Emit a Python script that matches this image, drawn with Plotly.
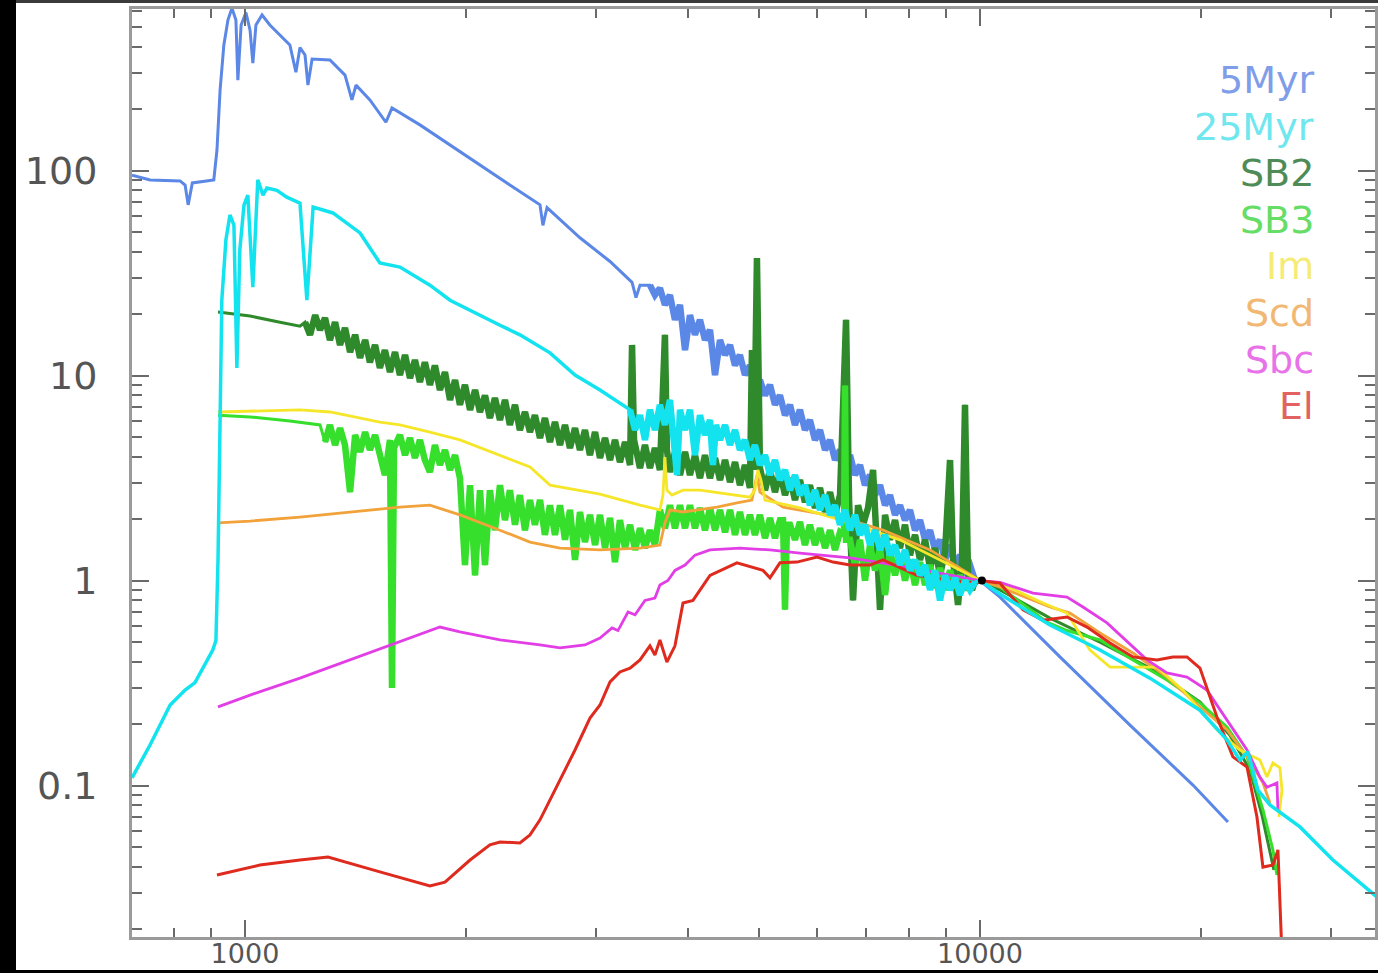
import plotly.graph_objects as go

# Template spectral energy distributions: (wavelength [Angstrom], flux normalised at 1 micron)
sed_5myr = [
    (702, 95), (743, 90), (816, 89), (829, 85), (837, 68), (848, 87), (907, 90), (916, 126),
    (925, 247), (936, 410), (948, 542), (960, 620), (972, 542), (978, 276), (988, 513),
    (1003, 590), (1016, 484), (1025, 334), (1035, 513), (1055, 574), (1081, 513), (1116, 460),
    (1151, 410), (1173, 302), (1188, 398), (1207, 366), (1218, 261), (1234, 350), (1305, 346),
    (1368, 292), (1398, 221), (1416, 261), (1479, 221), (1555, 172), (1585, 202), (1730, 167),
    (1901, 133), (2088, 106), (2293, 85), (2520, 68), (2543, 54), (2576, 66), (2856, 47),
    (3138, 36), (3362, 28.5), (3404, 24), (3447, 27.6), (3556, 27.6), (3612, 24.7), (3669, 26.7),
    (3727, 22.1), (3786, 24.7), (3846, 18.7), (3907, 22.1), (3969, 13.3), (4031, 19.7),
    (4095, 15.8), (4159, 18.7), (4225, 14.9), (4292, 16.7), (4360, 10.05), (4429, 14.9),
    (4499, 12.6), (4570, 14.1), (4642, 11.2), (4714, 12.6), (4789, 10.05), (4864, 11.2),
    (4941, 8.5), (5019, 9.5), (5099, 8.0), (5179, 9.0), (5261, 7.2), (5344, 8.0), (5429, 6.4),
    (5514, 7.2), (5601, 5.74), (5689, 6.8), (5779, 5.42), (5870, 6.07), (5963, 4.85),
    (6058, 5.42), (6154, 4.33), (6251, 4.85), (6350, 3.87), (6450, 4.33), (6552, 3.46),
    (6655, 4.09), (6760, 3.27), (6867, 3.66), (6975, 2.92), (7086, 3.27), (7198, 2.61),
    (7311, 2.92), (7427, 2.33), (7543, 2.61), (7663, 2.09), (7783, 2.33), (7906, 1.97),
    (8031, 2.21), (8158, 1.76), (8287, 1.97), (8418, 1.58), (8551, 1.76), (8686, 1.41),
    (8823, 1.58), (8963, 1.26), (9104, 1.49), (9248, 1.19), (9393, 1.33), (9541, 1.12),
    (9692, 1.19), (9845, 1.0), (10000, 1.0), (10647, 0.83), (12846, 0.424), (15997, 0.197),
    (19486, 0.1005), (21743, 0.0664),
]

sed_25myr = [
    (702, 0.109), (743, 0.158), (791, 0.247), (829, 0.292), (855, 0.318), (882, 0.387),
    (904, 0.458), (913, 0.51), (919, 1.26), (925, 6.07), (930, 23.3), (942, 45.8), (954, 60.7),
    (966, 54.2), (975, 10.9), (984, 41), (997, 67.9), (1009, 75.9), (1025, 27.0), (1041, 90),
    (1058, 75.9), (1071, 82.1), (1105, 80), (1140, 74.2), (1188, 69.4), (1214, 23.3),
    (1238, 66.4), (1317, 62.1), (1434, 49.6), (1526, 35.4), (1625, 33.8), (1785, 27.6),
    (1901, 23.3), (2223, 17.6), (2366, 15.8), (2600, 12.9), (2812, 10.05), (3041, 8.5),
    (3309, 7.02), (3341, 6.8), (3394, 5.42), (3447, 6.4), (3501, 4.85), (3556, 6.8),
    (3612, 5.42), (3669, 7.2), (3727, 5.74), (3786, 7.6), (3870, 3.27), (3907, 6.8),
    (3969, 5.42), (4031, 6.8), (4095, 4.09), (4159, 6.4), (4225, 5.13), (4292, 6.07),
    (4332, 3.66), (4374, 5.74), (4429, 4.85), (4499, 5.74), (4570, 4.58), (4642, 5.42),
    (4714, 4.33), (4789, 4.85), (4864, 3.87), (4941, 4.58), (5019, 3.66), (5099, 4.09),
    (5179, 3.27), (5261, 3.87), (5344, 3.09), (5429, 3.46), (5514, 2.76), (5601, 3.27),
    (5689, 2.61), (5779, 2.92), (5870, 2.33), (5963, 2.76), (6058, 2.21), (6154, 2.61),
    (6251, 2.09), (6350, 2.33), (6450, 1.87), (6552, 2.21), (6655, 1.76), (6760, 2.09),
    (6867, 1.67), (6975, 1.87), (7086, 1.49), (7198, 1.76), (7311, 1.41), (7427, 1.67),
    (7543, 1.33), (7663, 1.49), (7783, 1.19), (7906, 1.41), (8031, 1.12), (8158, 1.26),
    (8287, 1.06), (8418, 1.19), (8551, 0.90), (8686, 1.12), (8823, 0.80), (8963, 1.06),
    (9104, 0.90), (9248, 1.03), (9393, 0.85), (9541, 1.0), (9692, 0.90), (9845, 0.98),
    (10000, 1.0), (10647, 0.86), (12450, 0.607), (14563, 0.458), (17031, 0.334),
    (19918, 0.233), (21677, 0.167), (22576, 0.133), (23148, 0.146), (23886, 0.095),
    (24800, 0.0804), (27245, 0.0628), (30210, 0.0433), (34794, 0.0283),
]

sed_sb2 = [
    (919, 20.4), (1016, 19.5), (1116, 18.2), (1188, 17.4), (1207, 18.2), (1226, 15.8),
    (1246, 19.7), (1265, 16.7), (1285, 19.1), (1305, 14.9), (1326, 18.2), (1347, 14.1),
    (1368, 17.05), (1390, 13.0), (1412, 15.8), (1434, 12.2), (1457, 14.9), (1479, 11.6),
    (1503, 14.1), (1526, 10.9), (1550, 13.3), (1575, 10.4), (1600, 13.0), (1625, 10.05),
    (1651, 12.6), (1677, 9.72), (1703, 11.9), (1730, 9.30), (1757, 11.6), (1785, 9.0),
    (1813, 11.2), (1842, 8.5), (1871, 10.4), (1901, 7.6), (1931, 9.5), (1961, 7.2),
    (1992, 9.0), (2024, 6.8), (2056, 8.5), (2088, 6.64), (2121, 8.0), (2154, 6.2),
    (2188, 7.77), (2223, 6.07), (2258, 7.6), (2293, 5.74), (2330, 7.2), (2366, 5.42),
    (2404, 6.64), (2442, 5.30), (2480, 6.4), (2520, 4.96), (2559, 6.2), (2600, 4.74),
    (2641, 5.93), (2683, 4.58), (2725, 5.74), (2768, 4.43), (2812, 5.54), (2856, 4.33),
    (2901, 5.42), (2947, 4.09), (2994, 5.30), (3041, 3.96), (3089, 4.96), (3138, 3.87),
    (3187, 4.85), (3237, 3.78), (3289, 4.74), (3341, 3.66), (3362, 14.1), (3383, 4.85),
    (3447, 3.54), (3501, 4.58), (3556, 3.54), (3612, 4.43), (3669, 3.46), (3727, 15.8),
    (3750, 4.33), (3786, 3.38), (3846, 4.24), (3907, 3.27), (3969, 4.24), (4031, 3.27),
    (4095, 4.09), (4159, 3.16), (4225, 4.09), (4292, 3.16), (4360, 3.96), (4429, 3.09),
    (4499, 3.87), (4570, 3.02), (4642, 3.78), (4714, 2.92), (4789, 3.66), (4864, 2.83),
    (4895, 13.3), (4925, 3.46), (4972, 37.4), (5019, 3.54), (5099, 2.76), (5179, 3.46),
    (5261, 2.70), (5344, 3.38), (5429, 2.61), (5514, 3.16), (5601, 2.47), (5689, 3.09),
    (5779, 2.41), (5870, 2.92), (5963, 2.26), (6058, 2.83), (6154, 2.16), (6251, 2.70),
    (6350, 2.09), (6450, 2.61), (6573, 18.7), (6635, 2.47), (6718, 0.80), (6824, 2.33),
    (6932, 1.87), (7041, 2.26), (7153, 3.46), (7221, 1.97), (7311, 0.72), (7427, 2.09),
    (7543, 1.58), (7663, 1.97), (7783, 1.44), (7906, 1.87), (8031, 1.33), (8158, 1.67),
    (8287, 1.26), (8418, 1.58), (8551, 1.15), (8686, 1.44), (8823, 1.06), (8963, 1.38),
    (9104, 3.87), (9190, 1.26), (9335, 0.76), (9452, 1.26), (9541, 7.2), (9631, 1.06),
    (9753, 0.90), (9876, 1.03), (10000, 1.0), (10647, 0.90), (12450, 0.656), (14563, 0.50),
    (17031, 0.374), (19918, 0.256), (21880, 0.176), (23294, 0.119), (24186, 0.0718),
    (24800, 0.0485), (25113, 0.0387),
]

sed_sb3 = [
    (919, 6.4), (1016, 6.28), (1151, 6.0), (1265, 5.74), (1285, 4.74), (1305, 5.74),
    (1326, 4.58), (1347, 5.54), (1368, 4.58), (1390, 2.70), (1412, 5.13), (1434, 4.24),
    (1457, 5.30), (1479, 4.33), (1503, 5.13), (1526, 4.09), (1550, 3.27), (1575, 4.85),
    (1585, 0.299), (1595, 4.43), (1625, 5.13), (1651, 4.09), (1677, 4.96), (1703, 3.96),
    (1730, 4.85), (1757, 3.87), (1785, 3.38), (1813, 4.58), (1842, 3.66), (1871, 4.33),
    (1901, 3.46), (1931, 4.09), (1961, 3.16), (1992, 1.19), (2024, 2.92), (2056, 1.06),
    (2088, 2.76), (2121, 1.19), (2154, 2.76), (2188, 1.76), (2223, 2.92), (2258, 1.97),
    (2293, 2.76), (2330, 1.87), (2366, 2.61), (2404, 1.76), (2442, 2.47), (2480, 1.87),
    (2520, 2.47), (2559, 1.67), (2600, 2.33), (2641, 1.67), (2683, 2.33), (2725, 1.58),
    (2768, 2.21), (2812, 1.26), (2856, 2.16), (2901, 1.54), (2947, 2.09), (2994, 1.49),
    (3041, 2.09), (3089, 1.44), (3138, 2.02), (3187, 1.23), (3237, 1.97), (3289, 1.44),
    (3341, 1.87), (3394, 1.41), (3447, 1.80), (3501, 1.44), (3556, 1.76), (3612, 1.49),
    (3669, 2.21), (3727, 1.80), (3786, 2.33), (3846, 1.80), (3907, 2.33), (3969, 1.80),
    (4031, 2.33), (4095, 1.80), (4159, 2.26), (4225, 1.76), (4292, 2.26), (4360, 1.76),
    (4429, 2.21), (4499, 1.72), (4570, 2.21), (4642, 1.67), (4714, 2.16), (4789, 1.67),
    (4864, 2.09), (4941, 1.67), (5019, 2.09), (5099, 1.61), (5179, 2.02), (5261, 1.61),
    (5344, 1.97), (5395, 1.97), (5429, 0.72), (5463, 1.87), (5514, 1.87), (5601, 1.58),
    (5689, 1.93), (5779, 1.49), (5870, 1.87), (5963, 1.49), (6058, 1.80), (6154, 1.44),
    (6251, 1.76), (6350, 1.41), (6450, 1.72), (6531, 1.67), (6552, 8.94), (6573, 1.58),
    (6655, 1.58), (6760, 1.19), (6867, 1.58), (6975, 1.0), (7086, 1.49), (7198, 1.12),
    (7311, 1.44), (7427, 0.85), (7543, 1.41), (7663, 1.06), (7783, 1.33), (7906, 1.0),
    (8031, 1.26), (8158, 0.95), (8287, 1.23), (8418, 0.95), (8551, 1.19), (8686, 0.92),
    (8823, 1.15), (8963, 0.90), (9104, 1.12), (9248, 0.92), (9393, 1.06), (9541, 0.90),
    (9692, 1.03), (9845, 0.95), (10000, 1.0), (10647, 0.93), (12334, 0.627), (13131, 0.57),
    (14563, 0.513), (16147, 0.41), (17963, 0.327), (19918, 0.253), (21677, 0.193),
    (23082, 0.138), (24262, 0.076), (25033, 0.0485), (25350, 0.0366),
]

sed_im = [
    (919, 6.64), (1048, 6.71), (1188, 6.8), (1305, 6.64), (1390, 6.34), (1526, 5.93),
    (1625, 5.74), (1785, 5.30), (1961, 4.85), (2223, 4.09), (2442, 3.58), (2600, 2.92),
    (3041, 2.64), (3447, 2.33), (3669, 2.21), (3704, 2.61), (3727, 4.0), (3750, 2.76),
    (3810, 2.61), (3944, 2.76), (4159, 2.76), (4864, 2.55), (4941, 2.76), (4987, 3.46),
    (5035, 3.09), (5099, 2.47), (5689, 2.26), (6655, 1.91), (7783, 1.58), (9104, 1.19),
    (10000, 1.0), (10647, 0.97), (12180, 0.777), (13131, 0.694), (14113, 0.458),
    (15026, 0.378), (16147, 0.378), (17409, 0.378), (18885, 0.292), (21009, 0.187),
    (22576, 0.149), (24035, 0.133), (24569, 0.11), (25033, 0.129), (25588, 0.122),
    (25750, 0.095), (25508, 0.0702),
]

sed_scd = [
    (919, 1.91), (1016, 1.95), (1188, 2.04), (1390, 2.16), (1625, 2.28), (1785, 2.33),
    (1961, 2.09), (2223, 1.76), (2442, 1.54), (2683, 1.44), (3041, 1.41), (3447, 1.44),
    (3669, 1.49), (3727, 1.91), (3786, 2.21), (3944, 2.16), (4387, 2.28), (4670, 2.39),
    (4895, 2.47), (4972, 3.27), (5019, 2.70), (5395, 2.28), (6001, 2.13), (6655, 1.97),
    (7380, 1.76), (8551, 1.41), (9393, 1.15), (10000, 1.0), (10647, 0.93), (12450, 0.743),
    (13255, 0.694), (14563, 0.555), (16147, 0.443), (17963, 0.338), (19918, 0.242),
    (21677, 0.187), (23082, 0.138), (24262, 0.103), (24800, 0.0822),
]

sed_sbc = [
    (919, 0.242), (1016, 0.276), (1188, 0.334), (1390, 0.41), (1625, 0.50), (1785, 0.57),
    (1842, 0.593), (1961, 0.561), (2223, 0.513), (2520, 0.485), (2683, 0.469), (2901, 0.485),
    (3041, 0.524), (3158, 0.587), (3217, 0.57), (3320, 0.702), (3394, 0.68), (3501, 0.80),
    (3612, 0.821), (3669, 0.95), (3762, 1.0), (3846, 1.12), (3969, 1.19), (4095, 1.33),
    (4292, 1.41), (4714, 1.44), (5179, 1.41), (5689, 1.36), (6655, 1.29), (7783, 1.18),
    (9104, 1.06), (10000, 1.0), (10647, 0.98), (11805, 0.869), (13131, 0.83), (13807, 0.743),
    (14886, 0.621), (16147, 0.474), (16872, 0.41), (17963, 0.354), (19124, 0.338),
    (20359, 0.292), (22086, 0.187), (23082, 0.149), (24035, 0.11), (24569, 0.098),
    (25350, 0.103), (25430, 0.076),
]

sed_el = [
    (916, 0.0366), (1048, 0.0409), (1188, 0.0433), (1297, 0.0448), (1526, 0.0379),
    (1785, 0.0324), (1871, 0.0338), (2024, 0.0433), (2154, 0.0513), (2223, 0.053),
    (2366, 0.0525), (2442, 0.0574), (2520, 0.068), (2600, 0.085), (2683, 0.106),
    (2812, 0.149), (2947, 0.2135), (3041, 0.247), (3138, 0.32), (3237, 0.358), (3341, 0.374),
    (3447, 0.41), (3556, 0.48), (3612, 0.433), (3669, 0.513), (3750, 0.40), (3846, 0.48),
    (3944, 0.777), (4069, 0.80), (4292, 1.06), (4670, 1.22), (5067, 1.12), (5179, 1.03),
    (5344, 1.22), (5636, 1.23), (6001, 1.30), (6310, 1.23), (6655, 1.19), (7086, 1.19),
    (7380, 1.26), (8209, 1.06), (9104, 1.0), (9906, 0.97), (10000, 1.0), (10647, 0.97),
    (11441, 0.72), (12180, 0.64), (13131, 0.664), (13982, 0.593), (15026, 0.496),
    (16147, 0.424), (17409, 0.41), (18302, 0.424), (19124, 0.424), (19918, 0.374),
    (21009, 0.216), (22086, 0.138), (23082, 0.123), (23812, 0.0702), (24262, 0.04),
    (25033, 0.0409), (25430, 0.0485), (25750, 0.015),
]

norm_point = (10060, 1.0)

labels = ["5Myr", "25Myr", "SB2", "SB3", "Im", "Scd", "Sbc", "El"]
line_colors = ["#5b87e6", "#12e3ef", "#2e8a2a", "#35df2b", "#f6e62a", "#f2a23a", "#e23ee6", "#df2a1e"]
label_colors = ["#7f9de8", "#70e7ef", "#4f8b56", "#66dd66", "#f5ec78", "#f1b873", "#e872e8", "#e26262"]

x_major = [1000, 10000]
x_minor = [800, 900, 2000, 3000, 4000, 5000, 6000, 7000, 8000, 9000, 20000, 30000]
y_major = [0.1, 1, 10, 100]
y_minor = [m * 10 ** e for e in (-2, -1, 0, 1) for m in range(2, 10)] + [200, 300, 400, 500, 600]

series = {
    "5Myr": sed_5myr, "25Myr": sed_25myr, "SB2": sed_sb2, "SB3": sed_sb3,
    "Im": sed_im, "Scd": sed_scd, "Sbc": sed_sbc, "El": sed_el,
}
# wavelength span where the observed spectra are noisy; drawn with a heavier stroke
noisy_span = {"5Myr": (3500, 9950), "25Myr": (3330, 9950), "SB2": (1200, 9950), "SB3": (1280, 9950)}
draw_order = ["5Myr", "SB2", "SB3", "Scd", "Im", "Sbc", "El", "25Myr"]
widths = {"5Myr": 3, "25Myr": 3.5, "SB2": 3, "SB3": 3, "Im": 2.8, "Scd": 2.8, "Sbc": 2.8, "El": 3}

fig = go.Figure()
for name in draw_order:
    pts = series[name]
    col = line_colors[labels.index(name)]
    fig.add_trace(go.Scatter(
        x=[p[0] for p in pts], y=[p[1] for p in pts], mode="lines", name=name,
        line=dict(color=col, width=widths[name]), showlegend=False,
    ))
    if name in noisy_span:
        lo, hi = noisy_span[name]
        seg = [p for p in pts if lo <= p[0] <= hi]
        fig.add_trace(go.Scatter(
            x=[p[0] for p in seg], y=[p[1] for p in seg], mode="lines", name=name,
            line=dict(color=col, width=6.5), showlegend=False,
        ))
fig.add_trace(go.Scatter(x=[norm_point[0]], y=[norm_point[1]], mode="markers",
                         marker=dict(color="black", size=8), showlegend=False))

font_family = "DejaVu Sans, Verdana, sans-serif"
axis_common = dict(
    type="log", showline=True, linecolor="#9a9a9a", linewidth=3, mirror="allticks",
    ticks="inside", ticklen=17, tickwidth=2, tickcolor="#6a6a6a",
    showgrid=False, zeroline=False, automargin=False,
)

fig.update_xaxes(
    **axis_common, range=[2.8463, 4.5374],
    tickmode="array", tickvals=x_major, ticktext=["1000", "10000"],
    tickfont=dict(family=font_family, size=27, color="#555555"),
    ticklabelstandoff=-9,
    minor=dict(tickmode="array", tickvals=x_minor, ticks="inside", ticklen=9,
               tickwidth=2, tickcolor="#6a6a6a", showgrid=False),
)
fig.update_yaxes(
    **axis_common, range=[-1.739, 2.788],
    tickmode="array", tickvals=y_major, ticktext=["0.1", "1", "10", "100"],
    tickfont=dict(family=font_family, size=38, color="#555555"),
    ticklabelstandoff=24,
    minor=dict(tickmode="array", tickvals=y_minor, ticks="inside", ticklen=10,
               tickwidth=2, tickcolor="#6a6a6a", showgrid=False),
)

# legend drawn as coloured text down the right side
legend_top = 0.9235
legend_step = 0.0502
for i, (lab, col) in enumerate(zip(labels, label_colors)):
    fig.add_annotation(
        x=0.9525, y=legend_top - i * legend_step, xref="paper", yref="paper",
        text=lab, showarrow=False, xanchor="right", yanchor="middle",
        font=dict(family=font_family, size=38, color=col),
    )

# dark border of the slide around the figure
fig.add_shape(type="rect", xref="paper", yref="paper", xsizemode="pixel", ysizemode="pixel",
              xanchor=0, yanchor=0, x0=-140, x1=-116, y0=-60, y1=1000,
              fillcolor="black", line=dict(width=0), layer="above")
fig.add_shape(type="rect", xref="paper", yref="paper", xsizemode="pixel", ysizemode="pixel",
              xanchor=0, yanchor=0, x0=-140, x1=1300, y0=-33, y1=-60,
              fillcolor="black", line=dict(width=0), layer="below")
fig.add_shape(type="rect", xref="paper", yref="paper", xsizemode="pixel", ysizemode="pixel",
              xanchor=0, yanchor=1, x0=-116, x1=1300, y0=6, y1=20,
              fillcolor="#3a3a3a", line=dict(width=0), layer="above")

fig.update_layout(
    width=1378, height=973,
    margin=dict(l=132, r=3, t=9, b=36, autoexpand=False),
    plot_bgcolor="white", paper_bgcolor="white",
    showlegend=False,
)

fig.write_html("out.html")
